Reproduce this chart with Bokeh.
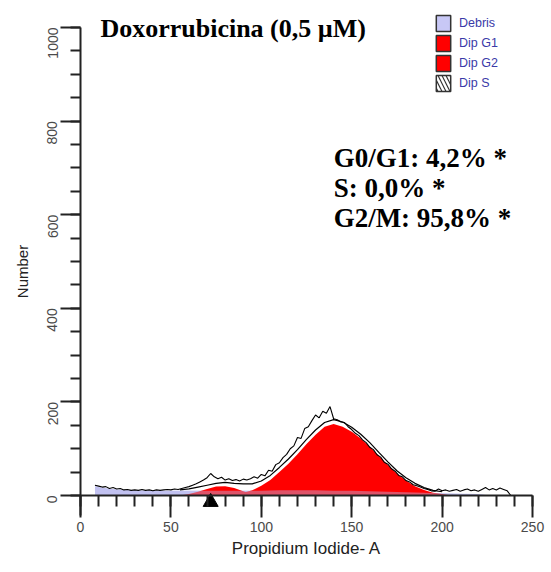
import math
from bokeh.plotting import figure
from bokeh.models import Range1d, Label, Legend, LegendItem, FixedTicker
from bokeh.embed import file_html
from bokeh.resources import INLINE

NAN = float("nan")

# ---- data ----
raw_x = list(range(8, 240, 2))
raw_counts = [22, 20, 18, 19, 15, 17, 14, 15, 12, 13,
              11, 12, 11, 13, 11, 12, 10, 12, 11, 12,
              13, 12, 14, 13, 15, 17, 19, 22, 25, 29,
              33, 38, 47, 40, 36, 39, 33, 36, 32, 34,
              31, 35, 33, 36, 40, 37, 45, 42, 54, 52,
              66, 70, 81, 88, 100, 106, 124, 122, 143, 147,
              160, 172, 166, 180, 176, 190, 164, 162, 157, 156,
              147, 141, 133, 128, 119, 113, 103, 98, 87, 82,
              71, 67, 57, 52, 43, 40, 32, 29, 23, 21,
              18, 15, 13, 10, 9, 14, 10, 12, 9, 11,
              13, 9, 12, 14, 10, 12, 9, 13, 17, 12,
              15, 12, 16, 13, 10, 0]

debris_x = [8, 10, 15, 20, 25, 30, 40, 50, 60, 70, 80, 90, 100, 110, 120, 130,
            140, 150, 160, 170, 180, 190, 200, 210, 220, 226]
debris_y = [20, 18, 15, 13, 12, 11, 10, 10, 10, 10, 10, 10, 10, 11, 11, 11,
            10, 10, 9, 8, 7, 6, 5, 4, 3, 0]

g1_x = [55, 60, 65, 70, 75, 80, 85, 90, 95, 100]
g1_y = [0, 3, 8, 14, 19, 20, 16, 9, 3, 0]

g2_x = [85, 90, 95, 100, 105, 110, 115, 120, 125, 130, 135, 140, 145, 150,
        155, 160, 165, 170, 175, 180, 185, 190, 195, 200, 205]
g2_y = [3, 6, 11, 21, 33, 50, 68, 88, 110, 130, 147, 153, 147, 136,
        122, 104, 85, 65, 47, 32, 20, 12, 6, 3, 0]

model_x = [55, 60, 65, 70, 75, 80, 85, 90, 95, 100, 105, 110, 115, 120, 125,
           130, 135, 140, 145, 150, 155, 160, 165, 170, 175, 180, 185, 190, 195, 200]
model_y = [12, 14, 18, 22, 26, 28, 26, 25, 25, 31, 43, 60, 78, 98, 120,
           140, 156, 162, 157, 146, 131, 113, 92, 72, 53, 38, 26, 17, 11, 8]

marker_x = [72]
marker_y = [-14]

x_major = [0, 50, 100, 150, 200, 250]
y_major = [0, 200, 400, 600, 800, 1000]

title_text = "Doxorrubicina (0,5 µM)"
stats_text = ["G0/G1: 4,2% *", "S: 0,0% *", "G2/M: 95,8% *"]
legend_labels = ["Debris", "Dip G1", "Dip G2", "Dip S"]

LAV = "#c8c8f6"
RED = "#ff0000"

# frame covers the whole canvas; axes are pinned at x=0 / y=0
p = figure(width=551, height=572,
           x_range=Range1d(-44.25, 260.5), y_range=Range1d(-164.5, 1057.7),
           output_backend="svg", toolbar_location=None,
           min_border_left=0, min_border_right=0, min_border_top=0, min_border_bottom=0)
p.grid.visible = False
p.outline_line_color = None

# areas
p.varea(x=debris_x, y1=0, y2=debris_y, fill_color=LAV)
p.varea(x=g1_x, y1=0, y2=g1_y, fill_color=RED)
p.varea(x=g2_x, y1=0, y2=g2_y, fill_color=RED)
p.varea(x=debris_x, y1=0, y2=debris_y, fill_color="#b8b8e8", fill_alpha=0.45)

# lines
p.line(model_x, model_y, line_color="black", line_width=1.2)
p.line(raw_x, raw_counts, line_color="black", line_width=1.1)

p.scatter(marker_x, marker_y, marker="triangle", size=15, color="black")

# legend swatches (placeholder renderers with no drawable geometry)
def swatch(**kw):
    return p.quad(left=[NAN], right=[NAN], top=[NAN], bottom=[NAN],
                  line_color="#333333", line_width=1.5, **kw)

r_deb = swatch(fill_color=LAV)
r_g1 = swatch(fill_color=RED)
r_g2 = swatch(fill_color=RED)
r_s = swatch(fill_color="white", hatch_pattern="left_diagonal_line",
             hatch_color="#333333", hatch_scale=8, hatch_weight=1.2)
legend = Legend(items=[LegendItem(label=lab, renderers=[r]) for lab, r in
                       zip(legend_labels, [r_deb, r_g1, r_g2, r_s])],
                location=(434, 479), orientation="vertical",
                glyph_width=18, glyph_height=20, label_height=20, spacing=0,
                label_standoff=7, padding=0, margin=0,
                border_line_color=None, background_fill_alpha=0,
                label_text_font="Liberation Sans", label_text_font_size="12.5px",
                label_text_color="#3a3aa8")
p.add_layout(legend)

# axes
p.xaxis.fixed_location = 0
p.yaxis.fixed_location = 0
p.xaxis.bounds = (0, 250)
p.yaxis.bounds = (-42.7, 1000)
p.xaxis.ticker = FixedTicker(ticks=x_major, minor_ticks=list(range(0, 251, 10)))
p.yaxis.ticker = FixedTicker(ticks=y_major, minor_ticks=list(range(0, 1001, 50)))
for ax in (p.xaxis, p.yaxis):
    ax.axis_line_color = "#222222"
    ax.axis_line_width = 2
    ax.major_tick_line_color = "#222222"
    ax.major_tick_line_width = 2
    ax.minor_tick_line_color = "#222222"
    ax.minor_tick_line_width = 2
    ax.major_tick_in = 0
    ax.minor_tick_in = 0
    ax.major_label_text_font = "Liberation Sans"
    ax.major_label_text_font_size = "14px"
    ax.major_label_text_color = "#4a4a4a"
    ax.axis_label_text_font = "Liberation Sans"
    ax.axis_label_text_font_style = "normal"
    ax.axis_label_text_color = "#222222"
p.xaxis.major_tick_out = 22
p.xaxis.minor_tick_out = 11
p.yaxis.major_tick_out = 20
p.yaxis.minor_tick_out = 10
p.xaxis.major_label_standoff = 4
p.yaxis.major_label_standoff = 8
p.yaxis.major_label_orientation = math.pi / 2
p.xaxis.axis_label = "Propidium Iodide- A"
p.xaxis.axis_label_text_font_size = "17px"
p.xaxis.axis_label_standoff = 4
p.yaxis.axis_label = "Number"
p.yaxis.axis_label_text_font_size = "15px"
p.yaxis.axis_label_standoff = 9

# texts
p.add_layout(Label(x=11, y=998, text=title_text, text_font="Liberation Serif",
                   text_font_style="bold", text_font_size="26px", text_color="black",
                   text_baseline="alphabetic"))
for t, yy in zip(stats_text, [722, 656, 592]):
    p.add_layout(Label(x=140, y=yy, text=t, text_font="Liberation Serif",
                       text_font_style="bold", text_font_size="27px", text_color="black",
                       text_baseline="alphabetic"))

open("out.html", "w").write(file_html(p, INLINE))
